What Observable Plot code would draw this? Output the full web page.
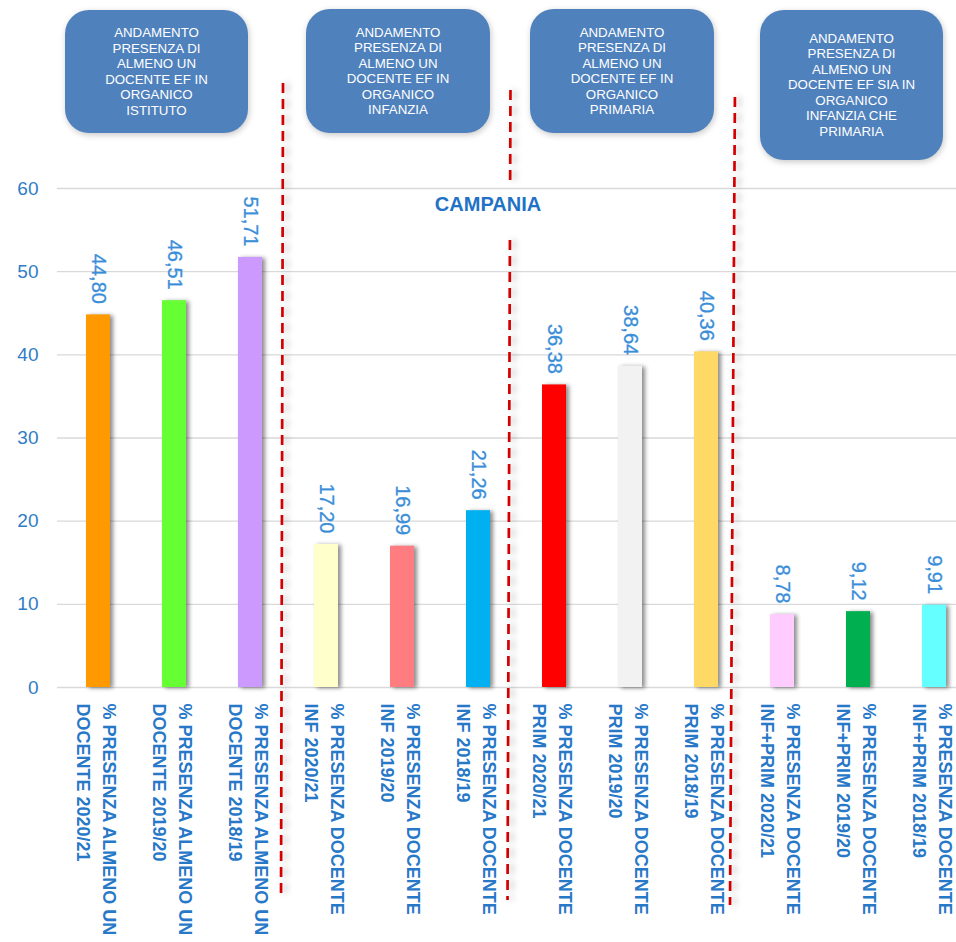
<!DOCTYPE html>
<html>
<head>
<meta charset="utf-8">
<script src="https://cdn.jsdelivr.net/npm/d3@7"></script>
<script src="https://cdn.jsdelivr.net/npm/@observablehq/plot@0.6"></script>
<style>
  html, body { margin: 0; padding: 0; background: #fff; overflow: hidden; width: 956px; height: 942px; }
  #wrap { position: relative; width: 956px; height: 942px; }
  #chart { position: absolute; left: 0; top: 0; }
  .box { position: absolute; background: #4F81BD; border-radius: 24px; color: #fff;
         font-family: "Liberation Sans", Arial, sans-serif; font-size: 13.3px; line-height: 15.5px;
         text-align: center; display: flex; align-items: center; justify-content: center;
         box-shadow: 1px 2px 6px rgba(0,0,0,0.22); }
  .title { position: absolute; left: 388px; top: 194px; width: 200px; text-align: center;
           font-family: "Liberation Sans", Arial, sans-serif; font-weight: bold; font-size: 20px;
           line-height: 20px; color: #1F72C6; }
</style>
</head>
<body>
<div id="wrap">
  <div id="chart"></div>
</div>
<script>
// ---- data ----
const categories = [
  "% PRESENZA ALMENO UN\nDOCENTE 2020/21",
  "% PRESENZA ALMENO UN\nDOCENTE 2019/20",
  "% PRESENZA ALMENO UN\nDOCENTE 2018/19",
  "% PRESENZA DOCENTE\nINF 2020/21",
  "% PRESENZA DOCENTE\nINF 2019/20",
  "% PRESENZA DOCENTE\nINF 2018/19",
  "% PRESENZA DOCENTE\nPRIM 2020/21",
  "% PRESENZA DOCENTE\nPRIM 2019/20",
  "% PRESENZA DOCENTE\nPRIM 2018/19",
  "% PRESENZA DOCENTE\nINF+PRIM 2020/21",
  "% PRESENZA DOCENTE\nINF+PRIM 2019/20",
  "% PRESENZA DOCENTE\nINF+PRIM 2018/19"
];
const values = [44.80, 46.51, 51.71, 17.20, 16.99, 21.26, 36.38, 38.64, 40.36, 8.78, 9.12, 9.91];
const barColors = ["#FF9900", "#66FF33", "#CC99FF", "#FFFFCC", "#FF7C80", "#00B0F0",
                   "#FF0000", "#F2F2F2", "#FFD966", "#FFCCFF", "#00B050", "#66FFFF"];
const yTicks = [0, 10, 20, 30, 40, 50, 60];
const chartTitle = "CAMPANIA";
const groupBoxes = [
  ["ANDAMENTO", "PRESENZA DI", "ALMENO UN", "DOCENTE EF IN", "ORGANICO", "ISTITUTO"],
  ["ANDAMENTO", "PRESENZA DI", "ALMENO UN", "DOCENTE EF IN", "ORGANICO", "INFANZIA"],
  ["ANDAMENTO", "PRESENZA DI", "ALMENO UN", "DOCENTE EF IN", "ORGANICO", "PRIMARIA"],
  ["ANDAMENTO", "PRESENZA DI", "ALMENO UN", "DOCENTE EF SIA IN", "ORGANICO", "INFANZIA CHE", "PRIMARIA"]
];
// group boundaries (index of first category of the next group)
const groupStarts = [3, 6, 9];

// ---- layout (not data) ----
const boxLayout = [
  {left: 65, top: 10, width: 183, height: 123},
  {left: 306, top: 9, width: 184, height: 124},
  {left: 530, top: 9, width: 184, height: 124},
  {left: 760, top: 10, width: 183, height: 150}
];
const dividerLayout = [
  {dTop: -5, dBottom: -7, segments: [[83, 895]]},
  {dTop: -5.5, dBottom: -8.5, segments: [[90, 185], [240, 900]]},
  {dTop: -9, dBottom: -14, segments: [[97, 905]]}
];

const data = categories.map((c, i) => ({cat: c, value: values[i], color: barColors[i]}));
const fmt = v => d3.format(".2f")(v).replace(".", ",");

const dividerMark = (index, scales, values_, dims, context) => {
  const x = scales.x;
  let bw = typeof x.bandwidth === "function" ? x.bandwidth() : x.bandwidth;
  const g = d3.create("svg:g").attr("aria-label", "dividers")
    .style("filter", "drop-shadow(4px 0px 3px rgba(0,0,0,0.28))");
  groupStarts.forEach((s, k) => {
    const a = x(categories[s - 1]), b = x(categories[s]);
    const mid = (a + bw + b) / 2;
    const L = dividerLayout[k];
    const y0 = 83, y1 = 905;
    L.segments.forEach(([t, btm]) => {
      const xt = mid + L.dTop + (L.dBottom - L.dTop) * (t - y0) / (y1 - y0);
      const xb = mid + L.dTop + (L.dBottom - L.dTop) * (btm - y0) / (y1 - y0);
      g.append("line")
        .attr("x1", xt).attr("x2", xb).attr("y1", t).attr("y2", btm)
        .attr("stroke", "#D40000").attr("stroke-width", 2.7)
        .attr("stroke-dasharray", "10,6");
    });
  });
  return g.node();
};

const chart = Plot.plot({
  width: 956,
  height: 942,
  marginLeft: 57,
  marginRight: -19,
  marginTop: 188,
  marginBottom: 255,
  style: {fontFamily: "'Liberation Sans', Arial, sans-serif", background: "transparent", overflow: "visible"},
  x: {domain: categories, paddingInner: 0.687, paddingOuter: 0.3435, axis: null},
  y: {domain: [0, 60], axis: null},
  color: {type: "identity"},
  marks: [
    Plot.gridY(yTicks, {stroke: "#D9D9D9", strokeOpacity: 1, strokeWidth: 1.3}),
    Plot.axisY(yTicks, {tickSize: 0, tickPadding: 19, fontSize: 19, fill: "#2F7DC6", label: null, tickFormat: d => String(d)}),
    Plot.barY(data, {x: "cat", y: "value", fill: "color"}),
    Plot.text(data, {x: "cat", y: "value", text: d => fmt(d.value), rotate: 90, textAnchor: "end",
                     lineAnchor: "middle", dy: -11, fontSize: 20, fill: "#3A8ED8", stroke: "#3A8ED8", strokeWidth: 0.3}),
    Plot.text(data, {x: "cat", y: 0, text: "cat", rotate: 90, textAnchor: "start", lineAnchor: "middle",
                     dy: 16, fontSize: 18, fontWeight: "bold", fill: "#2878C8", lineHeight: 1.45}),
    dividerMark
  ]
});

chart.querySelectorAll('g[aria-label="bar"]').forEach(g => {
  g.style.filter = "drop-shadow(3px 1px 2px rgba(0,0,0,0.45))";
});

document.getElementById("chart").appendChild(chart);

const wrap = document.getElementById("wrap");
groupBoxes.forEach((lines, i) => {
  const L = boxLayout[i];
  const div = document.createElement("div");
  div.className = "box";
  Object.assign(div.style, {left: L.left + "px", top: L.top + "px", width: L.width + "px", height: L.height + "px"});
  div.innerHTML = "<div>" + lines.join("<br>") + "</div>";
  wrap.appendChild(div);
});
const t = document.createElement("div");
t.className = "title";
t.textContent = chartTitle;
wrap.appendChild(t);
</script>
</body>
</html>
